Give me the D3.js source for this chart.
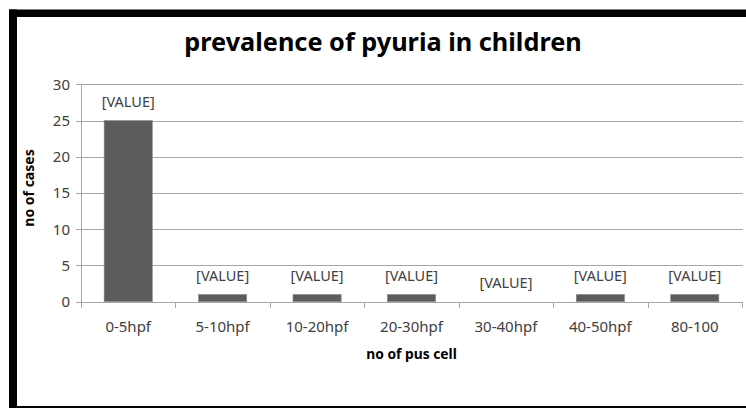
<!DOCTYPE html>
<html>
<head>
<meta charset="utf-8">
<script src="https://cdn.jsdelivr.net/npm/d3@7"></script>
<style>
  body { margin: 0; background: #fff; }
  text { font-family: "Noto Sans", "DejaVu Sans", sans-serif; }
</style>
</head>
<body>
<svg id="chart" width="746" height="408"></svg>
<script>
// chart data
var categories = ["0-5hpf", "5-10hpf", "10-20hpf", "20-30hpf", "30-40hpf", "40-50hpf", "80-100"];
var cases = [25, 1, 1, 1, 0, 1, 1];
var yTicks = [0, 5, 10, 15, 20, 25, 30];
var valueLabel = "[VALUE]";

var data = categories.map(function(c, i) { return { cat: c, value: cases[i] }; });

var svg = d3.select("#chart");

// frame (black band top + left, thin line bottom)
svg.append("rect").attr("x", 9).attr("y", 9.5).attr("width", 737).attr("height", 7.5).attr("fill", "#000");
svg.append("rect").attr("x", 9).attr("y", 9.5).attr("width", 8).attr("height", 398.5).attr("fill", "#000");
svg.append("rect").attr("x", 9).attr("y", 406).attr("width", 737).attr("height", 2).attr("fill", "#000");

// plot area (don't call it "top", that's window.top)
var plotLeft = 81, plotRight = 742, plotTop = 84.3, plotBottom = 301.7;

var x = d3.scaleBand()
    .domain(categories)
    .range([plotLeft, plotRight])
    .paddingInner(0.49)
    .paddingOuter(0.245);

var y = d3.scaleLinear()
    .domain([0, 30])
    .range([plotBottom, plotTop]);

// gridlines
svg.append("g")
    .selectAll("line")
    .data(yTicks)
  .enter().append("line")
    .attr("x1", plotLeft - 5)
    .attr("x2", plotRight + 1)
    .attr("y1", function(d) { return Math.round(y(d)) + 0.5; })
    .attr("y2", function(d) { return Math.round(y(d)) + 0.5; })
    .attr("stroke", "#a6a6a6")
    .attr("stroke-width", 1);

// y axis line
svg.append("line")
    .attr("x1", plotLeft + 0.5).attr("x2", plotLeft + 0.5)
    .attr("y1", Math.round(plotTop)).attr("y2", Math.round(plotBottom) + 0.5)
    .attr("stroke", "#a6a6a6");

// y tick labels
svg.append("g")
    .selectAll("text")
    .data(yTicks)
  .enter().append("text")
    .attr("x", plotLeft - 11)
    .attr("y", function(d) { return y(d); })
    .attr("dy", "0.36em")
    .attr("text-anchor", "end")
    .attr("font-size", "15px")
    .attr("fill", "#404040")
    .text(function(d) { return d; });

// x axis ticks at band boundaries
var boundaries = d3.range(categories.length + 1).map(function(i) {
  return plotLeft + i * (plotRight - plotLeft) / categories.length;
});
svg.append("g")
    .selectAll("line")
    .data(boundaries)
  .enter().append("line")
    .attr("x1", function(d) { return Math.round(d) + 0.5; })
    .attr("x2", function(d) { return Math.round(d) + 0.5; })
    .attr("y1", Math.round(plotBottom))
    .attr("y2", Math.round(plotBottom) + 6)
    .attr("stroke", "#a6a6a6");

// bars
svg.append("g")
    .selectAll("rect")
    .data(data)
  .enter().append("rect")
    .attr("x", function(d) { return x(d.cat); })
    .attr("y", function(d) { return y(d.value); })
    .attr("width", x.bandwidth())
    .attr("height", function(d) { return y(0) - y(d.value); })
    .attr("fill", "#5c5c5c")
    .attr("stroke", function(d) { return d.value > 0 ? "#8a8a8a" : "none"; })
    .attr("stroke-width", 0.6);

// value labels
svg.append("g")
    .selectAll("text")
    .data(data)
  .enter().append("text")
    .attr("x", function(d) { return x(d.cat) + x.bandwidth() / 2; })
    .attr("y", function(d) { return y(d.value) - 13.5; })
    .attr("text-anchor", "middle")
    .attr("font-size", "14.5px")
    .attr("fill", "#404040")
    .text(valueLabel);

// x tick labels
svg.append("g")
    .selectAll("text")
    .data(categories)
  .enter().append("text")
    .attr("x", function(d) { return x(d) + x.bandwidth() / 2; })
    .attr("y", 332)
    .attr("text-anchor", "middle")
    .attr("font-size", "15px")
    .attr("fill", "#404040")
    .text(function(d) { return d; });

// title
svg.append("text")
    .attr("x", 383)
    .attr("y", 51)
    .attr("text-anchor", "middle")
    .attr("font-size", "25.3px")
    .attr("font-weight", "bold")
    .attr("fill", "#000")
    .text("prevalence of pyuria in children");

// axis titles
svg.append("text")
    .attr("x", (plotLeft + plotRight) / 2)
    .attr("y", 359)
    .attr("text-anchor", "middle")
    .attr("font-size", "13.8px")
    .attr("font-weight", "bold")
    .attr("fill", "#000")
    .text("no of pus cell");

svg.append("text")
    .attr("transform", "translate(34,188) rotate(-90)")
    .attr("text-anchor", "middle")
    .attr("font-size", "14px")
    .attr("font-weight", "bold")
    .attr("fill", "#000")
    .text("no of cases");
</script>
</body>
</html>
